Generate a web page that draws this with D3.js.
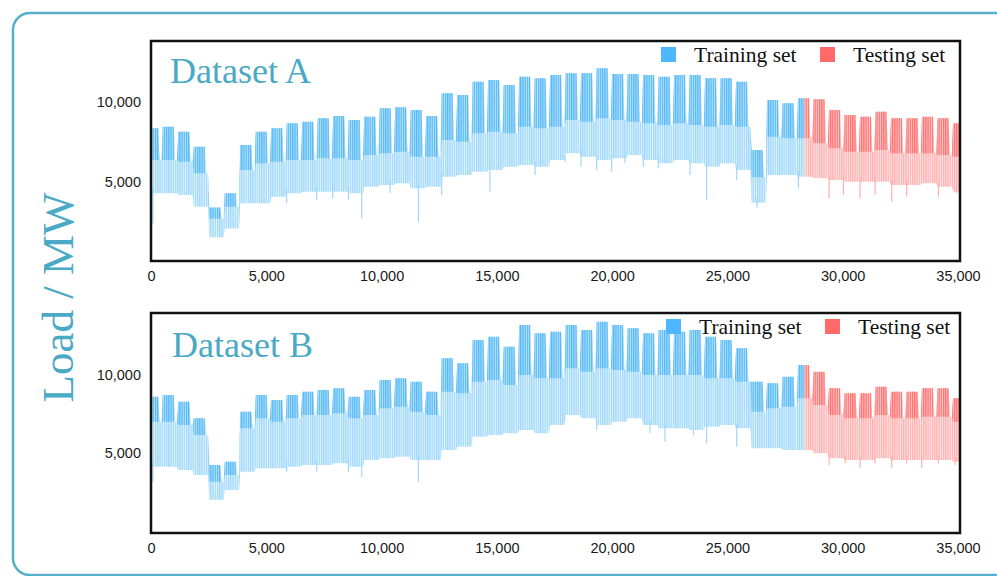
<!DOCTYPE html>
<html><head><meta charset="utf-8">
<script src="https://cdn.jsdelivr.net/npm/d3@7"></script>
<style>body{margin:0;background:#fff;} svg{display:block;}</style>
</head><body><svg id="c" width="997" height="576"></svg>
<script>
// ---------- data ----------
const xTickValues = [0, 5000, 10000, 15000, 20000, 25000, 30000, 35000];
const yTickValues = [5000, 10000];
const seriesLength = 35040;       // 15-min samples over one year
const splitIndex = 28340;         // training / testing split
const dayLength = 96;
const weekLength = 672;
const weekdaysLength = 480;
const firstWeekStart = -162;
const datasetNames = ["Dataset A", "Dataset B"];
const legendLabels = ["Training set", "Testing set"];

// weekly envelopes (MW): weekday peak, weekend peak / dense-band floor, night trough
const peakA = [8355,8459,8147,7209,3400,4293,7313,8147,8355,8667,8771,8980,9126,8876,9084,9605,9667,9500,9126,10542,10438,11271,11375,11063,11584,11479,11688,
  11792,11792,12104,11750,11750,11688,11584,11688,11688,11479,11479,11271,7000,10125,9917,10229,10167,9500,9188,9084,9396,8980,8980,9084,8980,8667];
const midA = [6376,6376,6272,5543,2700,3460,5751,6168,6272,6376,6376,6480,6480,6376,6688,6792,6897,6584,6584,7626,7522,8042,8147,8042,8459,8355,8459,
  8876,8771,8980,8876,8771,8667,8563,8667,8563,8459,8563,8459,5300,7834,7730,7730,7417,7105,6897,6897,7001,6792,6792,6792,6688,6584];
const lowA = [4293,4293,4189,3460,1550,2100,3668,3668,4085,4293,4397,4397,4397,4293,4710,4814,4918,4605,4710,5335,5439,5647,5751,5959,6063,5959,6376,
  6792,6584,6376,6480,6688,6376,6168,6376,6168,5959,6168,5751,3700,5439,5439,5335,5230,5126,5022,5022,5022,4814,4814,4918,4710,4397];
const spikeXA = [80,5886,7187,7881,8561,9140,10368,11600,12609,14700,16658,17955,18649,19329,19979,20558,21353,22004,23377,24100,25402,26280,28077,29407,30029,30752,31403,32126,32776,34150,34946];
const spikeMinA = [2400,3668,3876,3980,3876,2700,4293,2500,4189,4400,5439,6272,5959,5751,5647,6168,5959,5855,5439,3900,5126,3400,4605,3980,4189,3980,4189,3772,4085,4085,4293];

const peakB = [8610,8717,8290,7221,4230,4443,7649,8717,8397,8717,8931,9038,9145,8610,9038,9679,9786,9572,8931,11068,10747,12243,12457,11816,13205,12671,12778,
  13205,12884,13419,13205,12991,12671,12884,12778,12884,12457,12243,11709,9572,9465,9892,10641,10213,9145,8824,8824,9251,8931,8931,9145,9145,8504];
const midB = [7008,7008,6794,6153,3161,3588,6580,7221,7008,7221,7435,7435,7542,7221,7435,7862,7969,7649,7435,8931,8824,9572,9679,9358,9999,9786,9786,
  10427,10213,10427,10320,10213,9999,9999,9999,9999,9786,9786,9572,7649,7862,7969,8504,8076,7435,7221,7221,7435,7221,7221,7328,7328,7008];
const lowB = [4123,4123,3909,3588,2000,2627,3802,4016,4016,4123,4230,4230,4337,4123,4550,4657,4764,4550,4550,5191,5405,6046,6153,6260,6474,6260,6794,
  7435,7221,6794,7008,7221,6794,6580,6580,6474,6687,6794,6580,5298,5298,5191,5191,4978,4657,4550,4550,4657,4550,4550,4550,4550,4443];
const spikeXB = [80,5886,7187,8561,9139,11597,17955,19329,21642,22293,23522,24100,25402,29407,30101,30752,31403,32126,32776,33427,34150,34874];
const spikeMinB = [3161,3802,3802,3802,3481,3161,7221,6474,6260,5725,6153,5618,5405,4230,4337,4016,4337,4016,4337,4016,4337,4230];

// ---------- drawing ----------
const teal = "#4aaac5";
const colors = {
  train: {lightBg: "#def2fe", lightLine: "#9fd8fb", darkBg: "#b2e0fc", darkLine: "#55b9f6", key: "#4db8ff"},
  test:  {lightBg: "#ffe3e3", lightLine: "#ffb0b0", darkBg: "#ffc4c4", darkLine: "#ff7070", key: "#ff6b6b"}
};
const svg = d3.select("#c");
svg.append("rect").attr("x", 13).attr("y", 13).attr("width", 1010).attr("height", 562)
  .attr("rx", 17).attr("fill", "none").attr("stroke", "#58afca").attr("stroke-width", 2.5);

const x = d3.scaleLinear().domain([0, 35000]).range([151, 958]);
const frameLeft = 151, frameRight = 960;
const stripeW = x(dayLength) - x(0);
const defs = svg.append("defs");
function stripe(id, bg, line, w) {
  const p = defs.append("pattern").attr("id", id).attr("patternUnits", "userSpaceOnUse")
    .attr("width", stripeW).attr("height", 10);
  p.append("rect").attr("width", stripeW).attr("height", 10).attr("fill", bg);
  p.append("rect").attr("width", w).attr("height", 10).attr("fill", line);
}
["train", "test"].forEach(k => {
  stripe(`${k}-light`, colors[k].lightBg, colors[k].lightLine, 1.2);
  stripe(`${k}-dark`, colors[k].darkBg, colors[k].darkLine, 1.2);
});

const panels = [
  {name: datasetNames[0], peak: peakA, mid: midA, low: lowA, sx: spikeXA, smin: spikeMinA,
   top: 41, bottom: 261, yDomain: [0, 13750], yRange: [262, 42], titleX: 170, titleY: 83,
   legendX: 661, legendY: 47},
  {name: datasetNames[1], peak: peakB, mid: midB, low: lowB, sx: spikeXB, smin: spikeMinB,
   top: 313, bottom: 533, yDomain: [0, 14000], yRange: [531, 312.6], titleX: 172, titleY: 357,
   legendX: 666, legendY: 319}
];

panels.forEach((cfg, pi) => {
  const y = d3.scaleLinear().domain(cfg.yDomain).range(cfg.yRange);
  const weeks = cfg.peak.map((p, k) => ({s: firstWeekStart + k * weekLength, p, d: cfg.mid[k], l: cfg.low[k]}));
  const band = [], dark = [];
  weeks.forEach(w => {
    const we0 = w.s + weekdaysLength + dayLength / 2, we1 = w.s + weekLength - dayLength / 2;
    band.push({x: w.s, top: w.p, bot: w.l});
    band.push({x: w.s + weekdaysLength, top: w.p, bot: w.l});
    band.push({x: we0, top: w.d, bot: w.l});
    band.push({x: we1, top: w.d, bot: w.l});
    dark.push({x: w.s, top: w.p, bot: w.d});
    dark.push({x: w.s + weekdaysLength, top: w.p, bot: w.d});
    dark.push({x: we0, top: w.d, bot: w.d});
    dark.push({x: we1, top: w.d, bot: w.d});
  });
  const area = d3.area().curve(d3.curveLinear)
    .x(d => x(d.x)).y0(d => y(d.bot)).y1(d => y(d.top));

  const spikes = cfg.sx.map((sx, i) => {
    const k = Math.floor((sx - firstWeekStart) / weekLength);
    return {x: sx, min: cfg.smin[i], top: weeks[Math.max(0, Math.min(weeks.length - 1, k))].l + 300};
  });

  [["train", frameLeft, x(splitIndex)], ["test", x(splitIndex), x(seriesLength)]].forEach(([key, x0, x1]) => {
    const cid = `clip-${pi}-${key}`;
    defs.append("clipPath").attr("id", cid).append("rect")
      .attr("x", x0).attr("y", cfg.top).attr("width", x1 - x0).attr("height", cfg.bottom - cfg.top);
    const g = svg.append("g").attr("clip-path", `url(#${cid})`);
    g.append("path").attr("d", area(band)).attr("fill", `url(#${key}-light)`);
    g.append("path").attr("d", area(dark)).attr("fill", `url(#${key}-dark)`);
    g.selectAll("line.spike").data(spikes).join("line").attr("class", "spike")
      .attr("x1", d => x(d.x)).attr("x2", d => x(d.x))
      .attr("y1", d => y(d.min)).attr("y2", d => y(d.top))
      .attr("stroke", colors[key].lightLine).attr("stroke-width", 1.2);
  });

  // frame
  svg.append("rect").attr("x", frameLeft).attr("y", cfg.top)
    .attr("width", frameRight - frameLeft).attr("height", cfg.bottom - cfg.top)
    .attr("fill", "none").attr("stroke", "#111").attr("stroke-width", 2.5);

  // axes
  const fmt = d3.format(",");
  svg.append("g").attr("transform", `translate(${frameLeft},0)`)
    .call(d3.axisLeft(y).tickValues(yTickValues).tickSize(0).tickPadding(10).tickFormat(fmt))
    .call(g => g.select(".domain").remove())
    .attr("font-family", "Liberation Sans, Arial, sans-serif").attr("font-size", 14.5)
    .selectAll("text").attr("fill", "#1a1a1a");
  svg.append("g").attr("transform", `translate(0,${cfg.bottom})`)
    .call(d3.axisBottom(x).tickValues(xTickValues).tickSize(0).tickPadding(10).tickFormat(fmt))
    .call(g => g.select(".domain").remove())
    .attr("font-family", "Liberation Sans, Arial, sans-serif").attr("font-size", 14.5)
    .selectAll("text").attr("fill", "#1a1a1a");

  // panel title
  svg.append("text").attr("x", cfg.titleX).attr("y", cfg.titleY)
    .attr("font-family", "Liberation Serif, Times New Roman, serif").attr("font-size", 36)
    .attr("fill", teal).text(cfg.name);

  // legend
  const lg = svg.append("g").attr("transform", `translate(${cfg.legendX},${cfg.legendY})`);
  [[legendLabels[0], colors.train.key, 0], [legendLabels[1], colors.test.key, 159]].forEach(([lab, col, dx]) => {
    lg.append("rect").attr("x", dx).attr("y", 0).attr("width", 15).attr("height", 15).attr("fill", col);
    lg.append("text").attr("x", dx + 33).attr("y", 15)
      .attr("font-family", "Liberation Serif, Times New Roman, serif").attr("font-size", 21.5)
      .attr("fill", "#111").text(lab);
  });
});

// y-axis title
svg.append("text").attr("transform", "translate(73,297.5) rotate(-90)")
  .attr("text-anchor", "middle")
  .attr("font-family", "Liberation Serif, Times New Roman, serif").attr("font-size", 45)
  .attr("fill", teal).text("Load / MW");
</script>
</body></html>
